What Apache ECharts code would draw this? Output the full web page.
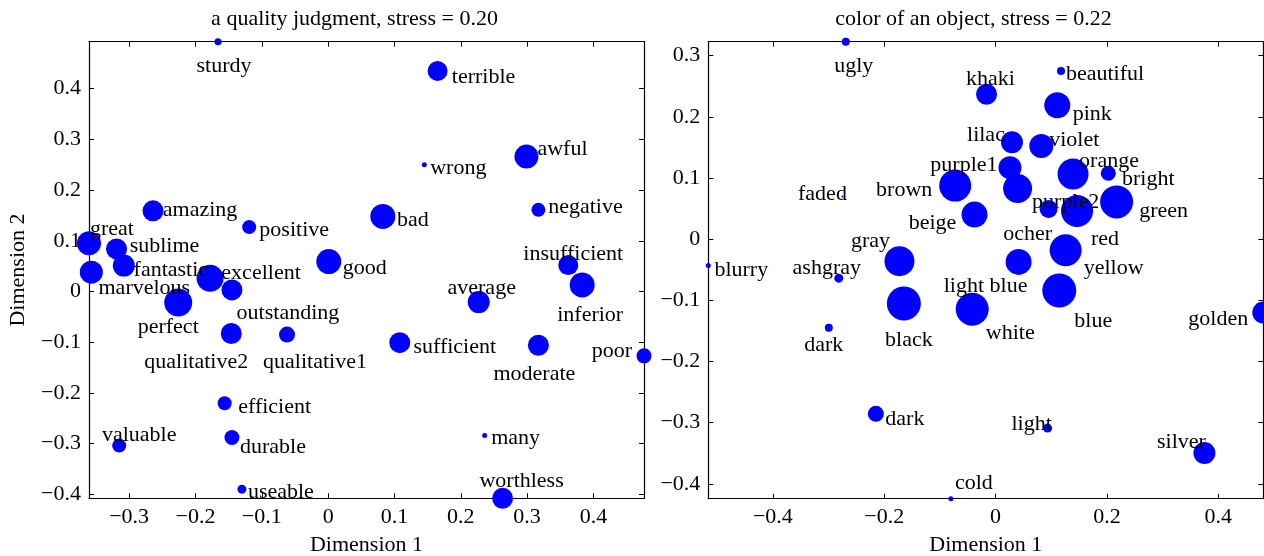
<!DOCTYPE html>
<html><head><meta charset="utf-8">
<script src="https://cdn.jsdelivr.net/npm/echarts@6/dist/echarts.min.js"></script>
<style>html,body{margin:0;padding:0;background:#fff}#c{width:1264px;height:556px}</style>
</head><body><div id="c"></div>
<script>
// ---------- data: left panel (a quality judgment) ----------
const qualityWords = ["sturdy","terrible","wrong","awful","negative","bad","amazing","positive","great","sublime",
  "fantastic","marvelous","excellent","outstanding","perfect","good","qualitative2","qualitative1","sufficient","efficient",
  "valuable","durable","useable","average","insufficient","inferior","moderate","poor","many","worthless"];
const qualityX = [-0.166,0.165,0.145,0.299,0.317,0.0825,-0.264,-0.119,-0.3605,-0.319,
  -0.308,-0.357,-0.178,-0.145,-0.226,0.001,-0.146,-0.062,0.108,-0.156,
  -0.315,-0.145,-0.130,0.227,0.362,0.383,0.317,0.4762,0.236,0.263];
const qualityY = [0.4927,0.435,0.250,0.266,0.161,0.148,0.159,0.127,0.095,0.084,
  0.051,0.038,0.026,0.003,-0.022,0.059,-0.083,-0.085,-0.101,-0.2205,
  -0.304,-0.288,-0.390,-0.021,0.052,0.013,-0.106,-0.127,-0.284,-0.408];
const qualityWeight = [7,20,5,24,14,25,21,14,24,21,
  22,23,27,21,28,25,21,16,21,14,
  14,15,9,22,20,25,21,15,5,21];
const qualityXTicks = [-0.3,-0.2,-0.1,0,0.1,0.2,0.3,0.4];
const qualityYTicks = [-0.4,-0.3,-0.2,-0.1,0,0.1,0.2,0.3,0.4];
const qualityTitle = "a quality judgment, stress = 0.20";

// ---------- data: right panel (color of an object) ----------
const colorWords = ["ugly","beautiful","khaki","pink","lilac","violet","purple1","ocher","orange","bright",
  "faded","brown","purple2","red","green","beige","yellow","light blue","gray","blurry",
  "ashgray","blue","black","white","dark","dark","light","silver","golden","cold"];
const colorX = [-0.269,0.1176,-0.0162,0.1109,0.0295,0.0822,0.0259,0.0396,0.1392,0.2026,
  -0.275,-0.0725,0.0953,0.1464,0.2175,-0.0378,0.1259,0.0414,-0.1726,-0.516,
  -0.2816,0.1145,-0.1647,-0.0419,-0.2995,-0.215,0.0935,0.3752,0.481,-0.0802];
const colorY = [0.3229,0.275,0.2369,0.219,0.1585,0.1525,0.117,0.0827,0.1067,0.1078,
  0.0696,0.0876,0.0495,0.0462,0.061,0.0402,-0.018,-0.0371,-0.0359,-0.0431,
  -0.0637,-0.084,-0.1052,-0.1144,-0.1449,-0.2855,-0.3088,-0.3497,-0.1199,-0.4243];
const colorWeight = [8,8,21,26,22,24,23,29,31,15,
  2,32,18,32,33,26,32,26,30,5,
  9,34,34,33,8,16,9,22,22,5];
const colorXTicks = [-0.4,-0.2,0,0.2,0.4];
const colorYTicks = [-0.4,-0.3,-0.2,-0.1,0,0.1,0.2,0.3];
const colorTitle = "color of an object, stress = 0.22";

const axisName1 = "Dimension 1";
const axisName2 = "Dimension 2";

// ---------- layout (label offsets from marker centre, px) ----------
const qualityLabelOffset = [[6,23],[46,4],[34,1],[36,-9],[47,-5],[30,2],[47,-3],[45,1],[23,-16],[48,-5],
  [47,3],[53,14],[51,-7],[56,21],[-10,23],[36,5],[-35,27],[28,26],[55,3],[50,2],
  [20,-12],[41,8],[39,1],[3,-16],[5,-13],[8,28],[-4,27],[-32,-7],[31,1],[19,-19]];
const colorLabelOffset = [[8,23],[44,1],[4,-17],[35,7],[-26,-9],[33,-8],[-46,-4],[10,44],[36,-15],[40,4],
  [-20,-4],[-51,3],[17,-9],[28,26],[47,7],[-42,7],[48,16],[-33,22],[-29,-22],[33,3],
  [-12,-12],[34,29],[5,35],[38,22],[-5,15],[29,3],[-16,-6],[-23,-13],[-45,5],[23,-17]];
const LABEL_DY = 2;

const FONT = "Liberation Serif";
const FS = 22;
const BLUE = "#0000ff";

function build(words, xs, ys, ws, offs) {
  return words.map((w, i) => ({
    name: w,
    value: [xs[i], ys[i], ws[i]],
    label: {
      position: [ws[i] / 2 + offs[i][0], ws[i] / 2 + offs[i][1] + LABEL_DY],
      align: "center", verticalAlign: "middle"
    }
  }));
}
const fmt = v => (Math.abs(v) < 1e-9 ? "0" : (v < 0 ? "\u2212" + String(+(-v).toFixed(2)) : String(+v.toFixed(2))));

const grids = [
  { left: 89, top: 41.7, width: 555, height: 456.6, outerBoundsMode: "none", containLabel: false },
  { left: 708.3, top: 41.7, width: 555, height: 457, outerBoundsMode: "none", containLabel: false }
];

function xAxes(gi, ticks, xs, named) {
  const mn = Math.min(...xs), mx = Math.max(...xs);
  const base = {
    type: "value", gridIndex: gi, min: mn, max: mx, scale: true,
    splitLine: { show: false },
    axisLine: { show: true, onZero: false, lineStyle: { color: "#000", width: 1.2 } },
    axisTick: { show: true, inside: true, length: 5, customValues: ticks, lineStyle: { color: "#000" } }
  };
  return [
    Object.assign({}, base, {
      position: "bottom",
      axisLabel: { show: true, customValues: ticks, formatter: fmt, margin: 8, color: "#000", fontFamily: FONT, fontSize: FS },
      name: named, nameLocation: "middle", nameGap: 36,
      nameTextStyle: { color: "#000", fontFamily: FONT, fontSize: FS }
    }),
    Object.assign({}, base, { position: "top", axisLabel: { show: false } })
  ];
}
function yAxes(gi, ticks, ys, named) {
  const mn = Math.min(...ys), mx = Math.max(...ys);
  const base = {
    type: "value", gridIndex: gi, min: mn, max: mx, scale: true,
    splitLine: { show: false },
    axisLine: { show: true, onZero: false, lineStyle: { color: "#000", width: 1.2 } },
    axisTick: { show: true, inside: true, length: 5, customValues: ticks, lineStyle: { color: "#000" } }
  };
  const left = Object.assign({}, base, {
    position: "left",
    axisLabel: { show: true, customValues: ticks, formatter: fmt, margin: 8, color: "#000", fontFamily: FONT, fontSize: FS }
  });
  if (named) {
    Object.assign(left, { name: named, nameLocation: "middle", nameGap: 60, nameRotate: 90,
      nameTextStyle: { color: "#000", fontFamily: FONT, fontSize: FS } });
  }
  return [left, Object.assign({}, base, { position: "right", axisLabel: { show: false } })];
}

const labelStyle = {
  show: true, formatter: p => p.name,
  color: "#000", fontFamily: FONT, fontSize: FS
};

const option = {
  animation: false,
  backgroundColor: "#fff",
  grid: grids,
  xAxis: [...xAxes(0, qualityXTicks, qualityX, axisName1), ...xAxes(1, colorXTicks, colorX, axisName1)],
  yAxis: [...yAxes(0, qualityYTicks, qualityY, axisName2), ...yAxes(1, colorYTicks, colorY, null)],
  graphic: [
    { type: "text", x: 354.5, y: 19, style: { text: qualityTitle, align: "center", verticalAlign: "middle", font: FS + "px '" + FONT + "'", fill: "#000" } },
    { type: "text", x: 973.5, y: 19, style: { text: colorTitle, align: "center", verticalAlign: "middle", font: FS + "px '" + FONT + "'", fill: "#000" } }
  ],
  series: [
    {
      type: "scatter", xAxisIndex: 0, yAxisIndex: 0, clip: false,
      symbolSize: v => v[2],
      itemStyle: { color: BLUE, opacity: 1 },
      label: labelStyle, labelLayout: { hideOverlap: false },
      emphasis: { disabled: true },
      data: build(qualityWords, qualityX, qualityY, qualityWeight, qualityLabelOffset)
    },
    {
      type: "scatter", xAxisIndex: 2, yAxisIndex: 2, clip: false,
      symbolSize: v => v[2],
      itemStyle: { color: BLUE, opacity: 1 },
      label: labelStyle, labelLayout: { hideOverlap: false },
      emphasis: { disabled: true },
      data: build(colorWords, colorX, colorY, colorWeight, colorLabelOffset)
    }
  ]
};
const chart = echarts.init(document.getElementById("c"), null, { renderer: "canvas" });
chart.setOption(option);
</script>
</body></html>
